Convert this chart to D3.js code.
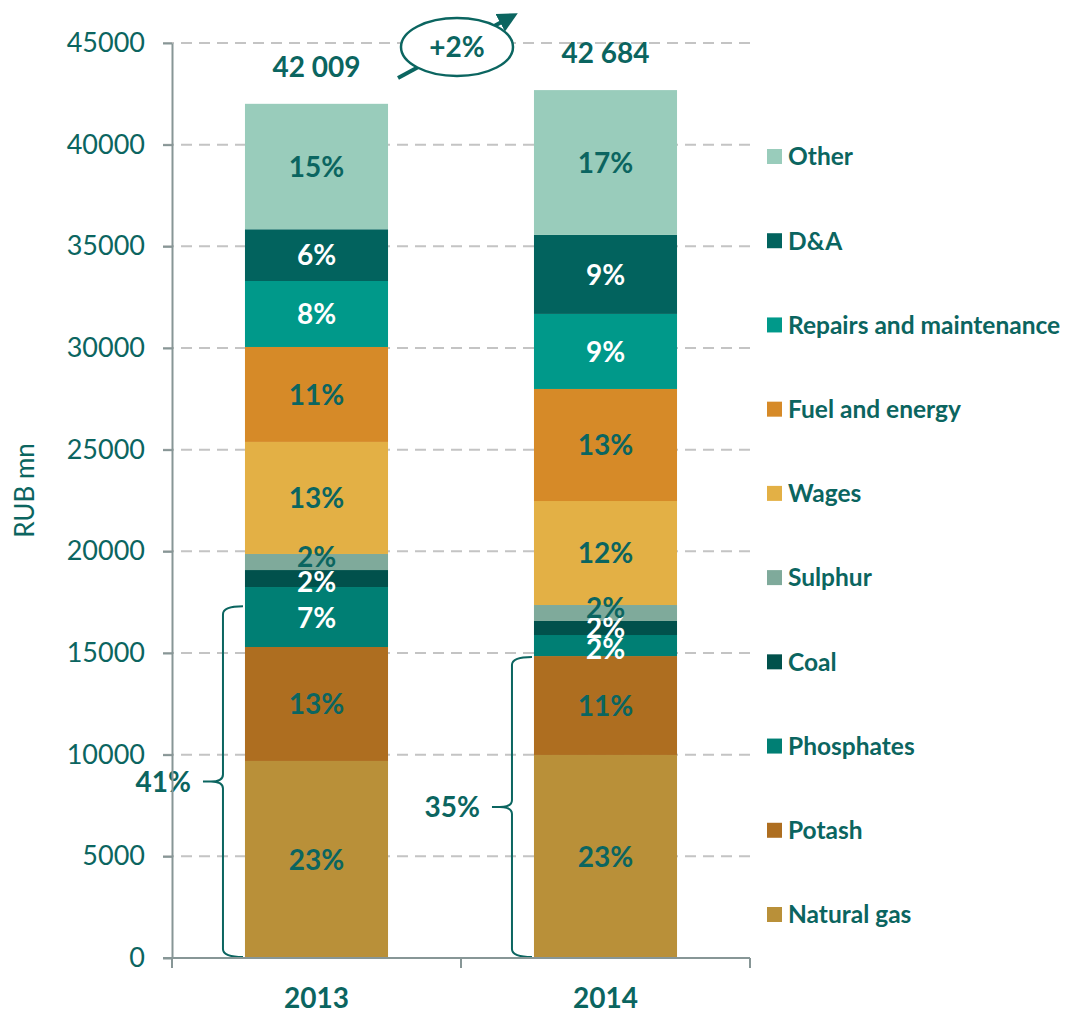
<!DOCTYPE html>
<html>
<head>
<meta charset="utf-8">
<script src="https://cdn.jsdelivr.net/npm/d3@7"></script>
<style>
  html, body { margin: 0; padding: 0; background: #ffffff; }
  svg { display: block; font-family: Lato, "Open Sans", sans-serif; }
</style>
</head>
<body>
<svg id="chart" width="1072" height="1012"></svg>
<script>
// ---------- data ----------
const years = ["2013", "2014"];
const categories = ["Natural gas", "Potash", "Phosphates", "Coal", "Sulphur", "Wages",
                    "Fuel and energy", "Repairs and maintenance", "D&A", "Other"];
const values2013 = [9690, 5605, 2950, 835, 790, 5510, 4670, 3245, 2545, 6169];
const values2014 = [9985, 4865, 1035, 690, 785, 5115, 5510, 3690, 3885, 7124];
const pctLabels2013 = ["23%", "13%", "7%", "2%", "2%", "13%", "11%", "8%", "6%", "15%"];
const pctLabels2014 = ["23%", "11%", "2%", "2%", "2%", "12%", "13%", "9%", "9%", "17%"];
const totalLabels = ["42 009", "42 684"];
const shareLabels = ["41%", "35%"];
const bracketTops = [17300, 14800];
const growthLabel = "+2%";
const yTicks = [0, 5000, 10000, 15000, 20000, 25000, 30000, 35000, 40000, 45000];
const yTitle = "RUB mn";

// ---------- styles ----------
const colors = ["#B99039", "#AE6E20", "#007F74", "#01514C", "#7FAA9B", "#E3B045",
                "#D68A28", "#00998A", "#02635E", "#99CCBB"];
const whiteLabel = [false, false, true, true, false, false, false, true, true, false];
// small vertical nudges (px) for crowded labels
const labelNudge2013 = [0, 0, 1, 3, -5, 0, 0, 0, 0, 0];
const labelNudge2014 = [0, 0, 3, 0, -5, 0, 0, 0, 0, 0];
const teal = "#0B6560";
const axisColor = "#879696";
const gridColor = "#C4C4C4";

const svg = d3.select("#chart");

const x = d3.scaleBand().domain(years).range([172, 750]).paddingInner(0.505).paddingOuter(0.2525);
const y = d3.scaleLinear().domain([0, 45000]).range([958, 43]);

const seriesValues = [values2013, values2014];
const seriesLabels = [pctLabels2013, pctLabels2014];
const seriesNudge = [labelNudge2013, labelNudge2014];

// ---------- gridlines ----------
svg.append("g").selectAll("line").data(yTicks.filter(d => d > 0)).join("line")
  .attr("x1", 163).attr("x2", 750)
  .attr("y1", d => y(d)).attr("y2", d => y(d))
  .attr("stroke", gridColor).attr("stroke-width", 2).attr("stroke-dasharray", "11,7");

// ---------- bars ----------
years.forEach((yr, i) => {
  const vals = seriesValues[i];
  let cum = 0;
  const segs = vals.map((v, k) => { const s = { k, y0: cum, y1: cum + v }; cum += v; return s; });
  const g = svg.append("g");
  g.selectAll("rect").data(segs).join("rect")
    .attr("x", x(yr)).attr("width", x.bandwidth())
    .attr("y", d => y(d.y1)).attr("height", d => y(d.y0) - y(d.y1))
    .attr("fill", d => colors[d.k]);
  g.selectAll("text").data(segs).join("text")
    .attr("x", x(yr) + x.bandwidth() / 2)
    .attr("y", d => (y(d.y0) + y(d.y1)) / 2 + seriesNudge[i][d.k])
    .attr("dy", "0.36em")
    .attr("text-anchor", "middle")
    .attr("font-size", 28).attr("font-weight", 700)
    .attr("fill", d => whiteLabel[d.k] ? "#ffffff" : teal)
    .text(d => seriesLabels[i][d.k]);
  // total
  svg.append("text")
    .attr("x", x(yr) + x.bandwidth() / 2)
    .attr("y", y(cum) - 37).attr("dy", "0.36em")
    .attr("text-anchor", "middle").attr("font-size", 28).attr("font-weight", 700)
    .attr("fill", teal).text(totalLabels[i]);
  // bracket
  const x0 = x(yr) - 2, xv = x(yr) - 22, xt = x(yr) - 42;
  const yT = y(bracketTops[i]), yB = y(0) - 1, yM = (yT + yB) / 2;
  const p = d3.path();
  p.moveTo(x0, yT);
  p.quadraticCurveTo(xv, yT, xv, yT + 8);
  p.lineTo(xv, yM - 7);
  p.quadraticCurveTo(xv, yM, xt + 8, yM);
  p.lineTo(xt, yM);
  p.moveTo(xt + 8, yM);
  p.quadraticCurveTo(xv, yM, xv, yM + 7);
  p.lineTo(xv, yB - 8);
  p.quadraticCurveTo(xv, yB, x0, yB);
  svg.append("path").attr("d", p.toString()).attr("fill", "none")
    .attr("stroke", teal).attr("stroke-width", 2);
  svg.append("text")
    .attr("x", xt - 12).attr("y", yM).attr("dy", "0.36em")
    .attr("text-anchor", "end").attr("font-size", 28).attr("font-weight", 700)
    .attr("fill", teal).text(shareLabels[i]);
});

// ---------- axes ----------
const yAxis = svg.append("g").attr("transform", "translate(172,0)")
  .call(d3.axisLeft(y).tickValues(yTicks).tickSize(9).tickSizeOuter(0).tickPadding(18).tickFormat(d3.format("d")));
yAxis.select(".domain").attr("stroke", axisColor).attr("stroke-width", 2);
yAxis.selectAll(".tick line").attr("stroke", axisColor).attr("stroke-width", 2);
yAxis.selectAll(".tick text").attr("fill", teal).attr("font-size", 27).attr("font-family", "Lato");

// x axis baseline and boundary ticks
svg.append("line").attr("x1", 163).attr("x2", 750).attr("y1", y(0)).attr("y2", y(0))
  .attr("stroke", axisColor).attr("stroke-width", 2);
const bounds = [x.range()[0], x.range()[0] + x.step(), x.range()[1]];
svg.append("g").selectAll("line").data(bounds).join("line")
  .attr("x1", d => d).attr("x2", d => d).attr("y1", y(0)).attr("y2", y(0) + 10)
  .attr("stroke", axisColor).attr("stroke-width", 2);
svg.append("g").selectAll("text").data(years).join("text")
  .attr("x", d => x(d) + x.bandwidth() / 2).attr("y", 998).attr("dy", "0.36em")
  .attr("text-anchor", "middle").attr("font-size", 28).attr("font-weight", 700)
  .attr("fill", teal).text(d => d);

// y title
svg.append("text").attr("transform", `translate(25,${(y(0) + y(45000)) / 2 - 10}) rotate(-90)`)
  .attr("text-anchor", "middle").attr("dy", "0.36em")
  .attr("font-size", 26).attr("fill", teal).text(yTitle);

// ---------- growth annotation ----------
const defs = svg.append("defs");
defs.append("marker").attr("id", "arrow").attr("viewBox", "0 0 10 10")
  .attr("refX", 5).attr("refY", 5).attr("markerWidth", 5).attr("markerHeight", 5)
  .attr("markerUnits", "strokeWidth").attr("orient", "auto")
  .append("path").attr("d", "M0,0 L10,5 L0,10 z").attr("fill", teal);
const cx = x.range()[0] + x.step() - 4, cy = y(45000) + 4;
svg.append("line").attr("x1", cx - 59).attr("y1", cy + 31).attr("x2", cx + 52).attr("y2", cy - 29)
  .attr("stroke", teal).attr("stroke-width", 4).attr("marker-end", "url(#arrow)");
svg.append("ellipse").attr("cx", cx).attr("cy", cy).attr("rx", 56).attr("ry", 29)
  .attr("fill", "#ffffff").attr("stroke", teal).attr("stroke-width", 2.5);
svg.append("text").attr("x", cx).attr("y", cy).attr("dy", "0.36em")
  .attr("text-anchor", "middle").attr("font-size", 28).attr("font-weight", 700)
  .attr("fill", teal).text(growthLabel);

// ---------- legend ----------
const legendY = d3.scalePoint().domain(categories.slice().reverse()).range([156.5, 914.5]);
const lg = svg.append("g").selectAll("g").data(categories).join("g")
  .attr("transform", d => `translate(767,${legendY(d)})`);
lg.append("rect").attr("x", 0).attr("y", -7.5).attr("width", 15).attr("height", 15)
  .attr("fill", (d, i) => colors[i]);
lg.append("text").attr("x", 21).attr("y", 0).attr("dy", "0.36em")
  .attr("font-size", 24.5).attr("font-weight", 700).attr("fill", teal).text(d => d);
</script>
</body>
</html>
